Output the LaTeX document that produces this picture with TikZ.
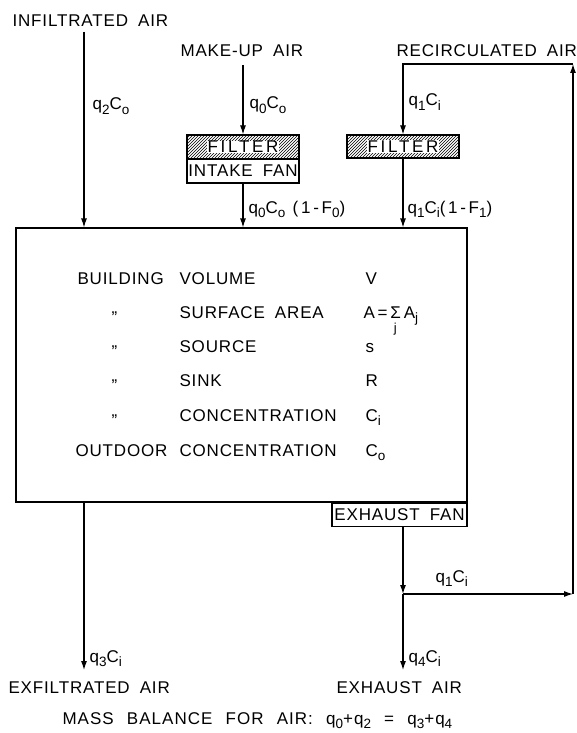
\documentclass[tikz,border=0pt]{standalone}
\usepackage{fontspec}
\setmainfont{Liberation Sans}[LetterSpace=5,WordSpace=1.8]
\newfontfamily\lblfont{Liberation Sans}[LetterSpace=16,WordSpace=1.5]
\newfontfamily\widefont{Liberation Sans}[LetterSpace=16]
\newfontfamily\mbfont{Liberation Sans}[LetterSpace=6,WordSpace=2.3]
\usetikzlibrary{arrows.meta,patterns}
\newcommand\lsub[1]{\raisebox{-0.5ex}{\fontsize{13.5}{13.5}\selectfont #1}}
\newcommand\sumj{\makebox[0pt][l]{\raisebox{-0.85em}{\hspace{0.2em}\fontsize{13}{13}\selectfont j}}Σ}
\newcommand\ditto{\raisebox{-0.3em}{"}}
\begin{document}
\begin{tikzpicture}[x=1pt,y=-1pt,line width=1.1pt,
  t/.style={inner sep=0pt,anchor=base west,font=\fontsize{17}{18}\selectfont},
  lb/.style={inner sep=0pt,anchor=base west,font=\lblfont\fontsize{17}{18}\selectfont},
  arr/.style={-{Latex[length=9pt,width=6pt]}},
  boxn/.style={draw,minimum width=112pt,minimum height=24pt,inner sep=0pt,font=\fontsize{17}{18}\selectfont},
  hatch/.style={boxn,pattern=north east lines},
  wt/.style={fill=white,inner sep=0.6pt,font=\widefont\fontsize{17}{18}\selectfont}]
\useasboundingbox (0,0) rectangle (576,733);
% titles
\node[t] (infl) at (12,27) {INFILTRATED AIR};
\node[t] (mk) at (180,57) {MAKE-UP AIR};
\node[t] (rec) at (396,57) {RECIRCULATED AIR};
% building
\node[draw,minimum width=451pt,minimum height=274pt,inner sep=0pt] (bldg) at (241.5,365) {};
% filters and fans
\node[hatch] (f0) at (243,147) {};
\node[wt] (f0t) at (f0) {FILTER};
\node[boxn] (fan0) at (243,171) {INTAKE FAN};
\node[hatch,minimum height=23pt] (f1) at (403,146.5) {};
\node[wt] (f1t) at (f1) {FILTER};
\node[boxn,minimum width=135pt,minimum height=23pt,anchor=north east] (fanx) at (bldg.south east) {EXHAUST FAN};
% coordinates
\coordinate (inS) at (84,32);
\coordinate (mkS) at (243,65);
\coordinate (lt) at (403,64);
\coordinate (rt) at (573,64);
\coordinate (rb) at (573,594);
\coordinate (junc) at (403,594);
\coordinate (exfE) at (84,670);
\coordinate (exhE) at (403,670);
% connectors
\draw[arr] (inS) -- (inS |- bldg.north);
\draw[arr] (mkS) -- (f0.north);
\draw[arr] (fan0.south) -- (fan0.south |- bldg.north);
\draw[arr] (rt) -- (lt) -- (f1.north);
\draw[arr] (f1.south) -- (f1.south |- bldg.north);
\draw[arr] (junc |- fanx.south) -- (junc);
\draw[arr] (junc) -- (rb);
\draw[arr] (rb) -- (rt);
\draw[arr] (junc) -- (exhE);
\draw[arr] (exfE |- bldg.south) -- (exfE);
% flow labels
\node[lb] (l1) at (92,110) {q\lsub{2}C\lsub{o}};
\node[lb] (l2) at (249,109) {q\lsub{0}C\lsub{o}};
\node[lb] (l3) at (248,213) {q\lsub{0}C\lsub{o} (1-F\lsub{0})};
\node[lb] (l4) at (408,106) {q\lsub{1}C\lsub{i}};
\node[lb] (l5) at (407,213) {q\lsub{1}C\lsub{i}(1-F\lsub{1})};
\node[lb] (l6) at (435,582) {q\lsub{1}C\lsub{i}};
\node[lb] (l7) at (89,662) {q\lsub{3}C\lsub{i}};
\node[lb] (l8) at (408,662) {q\lsub{4}C\lsub{i}};
\node[t] (exf) at (8,693) {EXFILTRATED AIR};
\node[t] (exh) at (336,693) {EXHAUST AIR};
\node[inner sep=0pt,anchor=base west,font=\mbfont\fontsize{17}{18}\selectfont] (mb) at (62,724)
  {MASS BALANCE FOR AIR: q\lsub{0}+q\lsub{2} = q\lsub{3}+q\lsub{4}};
% building contents
\node[t] (r1a) at (77,284.5) {BUILDING};
\node[t] (r1b) at (179,284.5) {VOLUME};
\node[t] (r1c) at (365,284.5) {V};
\node[t] (r2a) at (111,318.5) {\ditto};
\node[t] (r2b) at (179,318.5) {SURFACE AREA};
\node[t] (r2c) at (363,318.5) {A\,=\,\sumj\,A\lsub{j}};
\node[t] (r3a) at (111,352.5) {\ditto};
\node[t] (r3b) at (179,352.5) {SOURCE};
\node[t] (r3c) at (365,352.5) {s};
\node[t] (r4a) at (111,386.5) {\ditto};
\node[t] (r4b) at (179,386.5) {SINK};
\node[t] (r4c) at (365,386.5) {R};
\node[t] (r5a) at (111,421.5) {\ditto};
\node[t] (r5b) at (179,421.5) {CONCENTRATION};
\node[t] (r5c) at (365,421.5) {C\lsub{i}};
\node[t] (r6a) at (75,456.5) {OUTDOOR};
\node[t] (r6b) at (179,456.5) {CONCENTRATION};
\node[t] (r6c) at (365,456.5) {C\lsub{o}};
\end{tikzpicture}
\end{document}
